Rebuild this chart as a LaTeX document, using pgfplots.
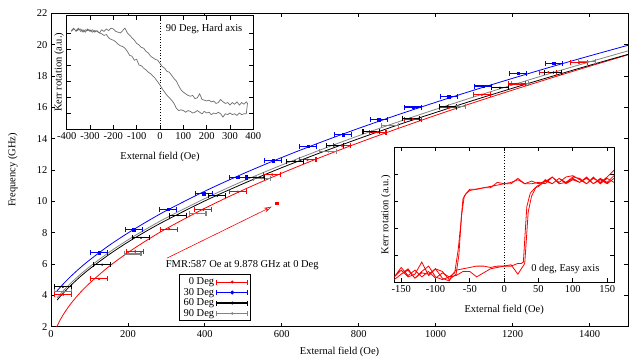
\documentclass[border=0pt]{standalone}
\usepackage{fontspec}
\setmainfont{Liberation Serif}
\usepackage{pgfplots}
\pgfplotsset{compat=1.18}
\usetikzlibrary{arrows.meta}
\definecolor{mygray}{RGB}{130,130,130}
\definecolor{inkgray}{RGB}{110,110,110}
\pgfplotsset{
  every axis/.append style={
    scale only axis,
    font=\fontsize{10.5}{12}\selectfont,
    tick align=inside,
    major tick length=4pt,
    tick style={line width=0.8pt,black},
    axis line style={line width=0.9pt},
    /pgf/number format/assume math mode=true,
    /pgf/number format/1000 sep={},
  },
  errleg/.style n args={3}{legend image code/.code={
    \draw[#1,line width=1.1pt] (0pt,0pt)--(31pt,0pt) (0pt,-2.5pt)--(0pt,2.5pt) (31pt,-2.5pt)--(31pt,2.5pt);
    \fill[#1] (15.5pt,0pt) #2 (#3);}},
  errbars/.style={only marks, forget plot,
    error bars/.cd, x dir=both, x explicit,
    error bar style={line width=1.1pt},
    error mark options={rotate=90, line width=1.1pt, mark size=2.5pt}},
}
\begin{document}
\begin{tikzpicture}
\useasboundingbox (-51pt,-33.3pt) rectangle (580pt,326.7pt);
\begin{axis}[
  name=main,
  width=577pt, height=313.4pt,
  xmin=0, xmax=1500, ymin=2, ymax=22,
  xtick={0,200,...,1400}, ytick={2,4,...,22},
  xlabel={External field (Oe)}, ylabel={Frequency (GHz)},
  every axis x label/.style={at={(axis description cs:0.5,-0.081)},anchor=center},
  every axis y label/.style={at={(axis description cs:-0.066,0.5)},rotate=90,anchor=center},
  legend style={at={(0.222,0.167)}, anchor=north west, draw=black, line width=0.9pt,
     font=\fontsize{10.5}{11}\selectfont, row sep=-2pt, inner xsep=2pt, inner ysep=1pt},
  legend cell align=right, legend plot pos=right,
  clip=true,
]
% fit curves
\addplot[red, line width=0.8pt, smooth, forget plot] coordinates {
(14,1.94) (20,2.25) (30,2.70) (50,3.42) (75,4.15) (100,4.77) (150,5.83) (200,6.73) (250,7.53) (300,8.26) (400,9.56) (500,10.73) (600,11.80) (700,12.80) (800,13.74) (900,14.63) (1000,15.49) (1100,16.31) (1200,17.10) (1300,17.87) (1400,18.62) (1500,19.35)};
\addplot[blue, line width=0.8pt, smooth, forget plot] coordinates {
(15,4.27) (30,4.68) (50,5.18) (75,5.74) (100,6.25) (150,7.17) (200,7.98) (250,8.72) (300,9.41) (400,10.65) (500,11.77) (600,12.80) (700,13.76) (800,14.66) (900,15.51) (1000,16.32) (1100,17.10) (1200,17.85) (1300,18.58) (1400,19.28) (1500,19.96)};
\addplot[black, line width=0.8pt, smooth, forget plot] coordinates {
(16,3.70) (30,4.10) (50,4.60) (75,5.17) (100,5.68) (150,6.59) (200,7.40) (250,8.13) (300,8.80) (400,10.03) (500,11.13) (600,12.15) (700,13.10) (800,14.00) (900,14.86) (1000,15.67) (1100,16.46) (1200,17.22) (1300,17.96) (1400,18.68) (1500,19.38)};
\addplot[mygray, line width=0.8pt, smooth, forget plot] coordinates {
(16,3.85) (30,4.24) (50,4.75) (75,5.31) (100,5.82) (150,6.73) (200,7.54) (250,8.27) (300,8.95) (400,10.18) (500,11.30) (600,12.32) (700,13.28) (800,14.19) (900,15.05) (1000,15.87) (1100,16.67) (1200,17.43) (1300,18.18) (1400,18.90) (1500,19.60)};
% data with error bars
\addplot[mygray, mark=*, mark size=0.8pt, errbars]
 coordinates {(32,4.23) +- (22,0) (212,6.64) +- (22,0) (381,9.24) +- (22,0) (548,11.47) +- (22,0) (721,13.17) +- (22,0) (881,14.85) +- (22,0) (1055,16.08) +- (22,0) (1219,17.53) +- (22,0) (1394,18.91) +- (22,0)};
\addplot[red, mark=*, mark size=1pt, errbars]
 coordinates {(32,4.05) +- (22,0) (125,5.05) +- (22,0) (219,6.8) +- (22,0) (307,8.23) +- (22,0) (396,9.47) +- (22,0) (486,10.61) +- (22,0) (575,11.71) +- (22,0) (667,12.65) +- (22,0) (757,13.55) +- (22,0) (849,14.42) +- (22,0) (940,15.25) +- (22,0) (1033,15.98) +- (22,0) (1120,16.8) +- (22,0) (1211,17.49) +- (22,0) (1293,18.24) +- (22,0) (1373,18.85) +- (22,0)};
\addplot[blue, mark=square*, mark size=1.3pt, errbars]
 coordinates {(125,6.72) +- (22,0) (215,8.2) +- (22,0) (305,9.5) +- (22,0) (397,10.5) +- (22,0) (485,11.55) +- (22,0) (578,12.59) +- (22,0) (669,13.52) +- (22,0) (760,14.25) +- (22,0) (852,15.22) +- (22,0) (942,16.02) +- (22,0) (1034,16.68) +- (22,0) (1124,17.36) +- (22,0) (1215,18.17) +- (22,0) (1307,18.81) +- (22,0)};
\addplot[black, mark=*, mark size=0.9pt, errbars]
 coordinates {(31,4.55) +- (22,0) (133,5.96) +- (22,0) (234,7.68) +- (22,0) (330,9.12) +- (22,0) (432,10.36) +- (22,0) (533,11.52) +- (22,0) (634,12.56) +- (22,0) (738,13.57) +- (22,0) (833,14.44) +- (22,0) (936,15.28) +- (22,0) (1031,16.06) +- (22,0) (1167,17.25) +- (22,0) (1306,18.22) +- (22,0)};
% FMR point
\addplot[red, only marks, mark=square*, mark size=1.3pt, forget plot] coordinates {(587,9.878)};
\draw[red, line width=0.6pt, -{Stealth[open,length=8pt,width=5pt]}] (axis cs:301,6.37) -- (axis cs:574,9.66);
\node[anchor=west, inner sep=0pt] at (axis cs:298,5.94) {FMR:587 Oe at 9.878 GHz at 0 Deg};
% legend
\addlegendimage{errleg={red}{circle}{1pt}}
\addlegendentry{0 Deg}
\addlegendimage{errleg={blue}{circle}{1.5pt}}
\addlegendentry{30 Deg}
\addlegendimage{errleg={black}{circle}{1pt}}
\addlegendentry{60 Deg}
\addlegendimage{errleg={mygray}{circle}{0.8pt}}
\addlegendentry{90 Deg}
\end{axis}

% Inset 1: hard axis
\begin{axis}[
  at={(15.7pt,197.7pt)}, anchor=south west,
  width=186.6pt, height=113.3pt,
  axis background/.style={fill=white},
  xmin=-400, xmax=400, ymin=0, ymax=7.08,
  xtick={-400,-300,...,400}, ytick={1,2,3,4,5,6}, yticklabels={},
  xlabel={External field (Oe)}, ylabel={Kerr rotation (a.u.)},
  every axis x label/.style={at={(axis description cs:0.5,-0.244)},anchor=center},
  every axis y label/.style={at={(axis description cs:-0.041,0.5)},rotate=90,anchor=center},
]
\addplot[black, dotted, line width=0.7pt] coordinates {(0,0) (0,7.08)};
\addplot[inkgray, line width=0.7pt] coordinates {
(-380,6.15) (-370,6.3) (-360,6.1) (-350,6.2) (-340,6.25) (-330,6.05) (-320,6.2) (-310,6.15) (-300,6.2) (-290,6.05) (-280,6.15) (-270,6.1) (-260,6.0) (-250,5.95) (-240,5.85) (-230,5.9) (-220,5.7) (-210,5.6) (-200,5.55) (-190,5.45) (-180,5.3) (-170,5.2) (-160,5.15) (-150,5.05) (-140,4.85) (-130,4.6) (-120,4.55) (-110,4.3) (-100,4.35) (-90,4.0) (-80,3.95) (-70,3.8) (-60,3.7) (-50,3.55) (-40,3.45) (-30,3.3) (-20,3.15) (-10,2.95) (0,2.75) (10,2.5) (20,2.3) (30,2.1) (40,1.95) (50,1.8) (60,1.6) (70,1.3) (80,1.15) (90,1.2) (100,1.15) (110,1.05) (120,1.15) (130,1.1) (140,1.0) (150,1.05) (160,1.15) (170,1.05) (180,0.95) (190,1.1) (200,1.0) (210,1.05) (220,0.9) (230,1.0) (240,0.95) (250,1.05) (260,0.95) (270,0.75) (280,0.95) (290,0.9) (300,1.0) (310,0.9) (320,0.95) (330,0.85) (340,1.0) (350,0.9) (360,0.95) (370,0.95) (375,1.6)
(370,1.7) (360,1.55) (350,1.65) (340,1.5) (330,1.7) (320,1.55) (310,1.65) (300,1.5) (290,1.65) (280,1.6) (270,1.7) (260,1.85) (250,1.65) (240,1.6) (230,1.75) (220,1.7) (210,1.8) (200,1.75) (190,1.8) (180,1.85) (170,2.2) (160,1.95) (150,1.9) (140,2.1) (130,2.05) (120,2.1) (110,2.2) (100,2.3) (90,2.45) (80,2.7) (70,3.0) (60,3.15) (50,3.35) (40,3.55) (30,3.6) (20,3.8) (10,3.9) (0,4.1) (-10,4.3) (-20,4.35) (-30,4.45) (-40,4.55) (-50,4.75) (-60,4.85) (-70,5.05) (-80,5.1) (-90,5.25) (-100,5.35) (-110,5.55) (-120,5.7) (-130,5.85) (-140,6.0) (-150,6.3) (-160,6.15) (-170,6.0) (-180,6.05) (-190,6.1) (-200,6.25) (-210,6.3) (-220,6.15) (-230,6.25) (-240,6.1) (-250,6.2) (-260,6.0) (-270,6.15) (-280,6.05) (-290,6.2) (-300,6.1) (-310,6.25) (-320,6.05) (-330,6.2) (-340,6.1) (-350,6.3) (-360,6.15) (-370,6.25) (-380,6.1)};
\node[anchor=east] at (rel axis cs:0.96,0.88) {90 Deg, Hard axis};
\end{axis}

% Inset 2: easy axis
\begin{axis}[
  at={(343.3pt,44.4pt)}, anchor=south west,
  width=219.7pt, height=135pt,
  axis background/.style={fill=white},
  xmin=-160, xmax=160, ymin=0, ymax=5,
  xtick={-150,-100,...,150}, ytick={1,2,3,4}, yticklabels={},
  xlabel={External field (Oe)}, ylabel={Kerr rotation (a.u.)},
  every axis x label/.style={at={(axis description cs:0.5,-0.205)},anchor=center},
  every axis y label/.style={at={(axis description cs:-0.038,0.5)},rotate=90,anchor=center},
]
\addplot[black, dotted, line width=0.7pt] coordinates {(0,0) (0,5)};
\addplot[red, line width=0.8pt] coordinates {
(160,3.95) (150,3.7) (140,3.85) (130,3.65) (120,3.9) (110,3.7) (100,3.8) (90,3.65) (80,3.85) (70,3.65) (60,3.75) (50,3.65) (40,3.75) (30,3.65) (20,3.85) (10,3.65) (0,3.65) (-10,3.6) (-20,3.55) (-30,3.5) (-40,3.45) (-50,3.4) (-55,3.3) (-60,3.1) (-63,2.2) (-67,1.2) (-72,0.35) (-80,0.2) (-90,0.35) (-100,0.15) (-110,0.4) (-120,0.2) (-130,0.45) (-140,0.25) (-150,0.55) (-160,0.2)
(-150,0.45) (-140,0.2) (-130,0.3) (-120,0.75) (-110,0.25) (-100,0.5) (-90,0.15) (-80,0.05) (-75,0.3) (-70,0.45) (-60,0.5) (-50,0.55) (-40,0.6) (-30,0.6) (-20,0.55) (-10,0.6) (0,0.6) (10,0.6) (20,0.7) (25,0.7) (28,0.75) (31,2.0) (33,2.8) (38,3.3) (45,3.5) (50,3.55) (60,3.8) (70,3.65) (80,3.85) (90,3.7) (100,3.85) (110,3.7) (120,3.85) (130,3.65) (140,3.8) (150,3.65) (160,3.85)};
\addplot[red, line width=0.8pt] coordinates {
(160,3.7) (150,3.85) (140,3.65) (130,3.9) (120,3.65) (110,3.85) (100,3.9) (90,3.7) (80,3.65) (70,3.9) (60,3.65) (50,3.7) (40,3.65) (30,3.65) (20,3.8) (10,3.7) (0,3.65) (-10,3.7) (-20,3.5) (-30,3.5) (-40,3.45) (-50,3.45) (-58,3.2) (-62,2.5) (-66,1.0) (-70,0.3) (-80,0.1) (-90,0.4) (-100,0.5) (-110,0.3) (-120,0.35) (-130,0.15) (-140,0.5) (-150,0.3) (-160,0.1)
(-150,0.3) (-140,0.45) (-130,0.15) (-120,0.4) (-110,0.6) (-100,0.2) (-90,0.1) (-80,0.2) (-70,0.25) (-60,0.4) (-50,0.4) (-40,0.2) (-30,0.35) (-20,0.5) (-10,0.55) (0,0.6) (10,0.65) (20,0.3) (30,0.7) (35,2.6) (40,3.2) (47,3.55) (55,3.65) (70,3.9) (80,3.7) (90,3.9) (100,3.95) (110,3.8) (120,3.65) (130,3.85) (140,3.7) (150,3.9) (160,4.15)};
\node[anchor=east] at (rel axis cs:0.95,0.096) {0 deg, Easy axis};
\end{axis}
\end{tikzpicture}
\end{document}
